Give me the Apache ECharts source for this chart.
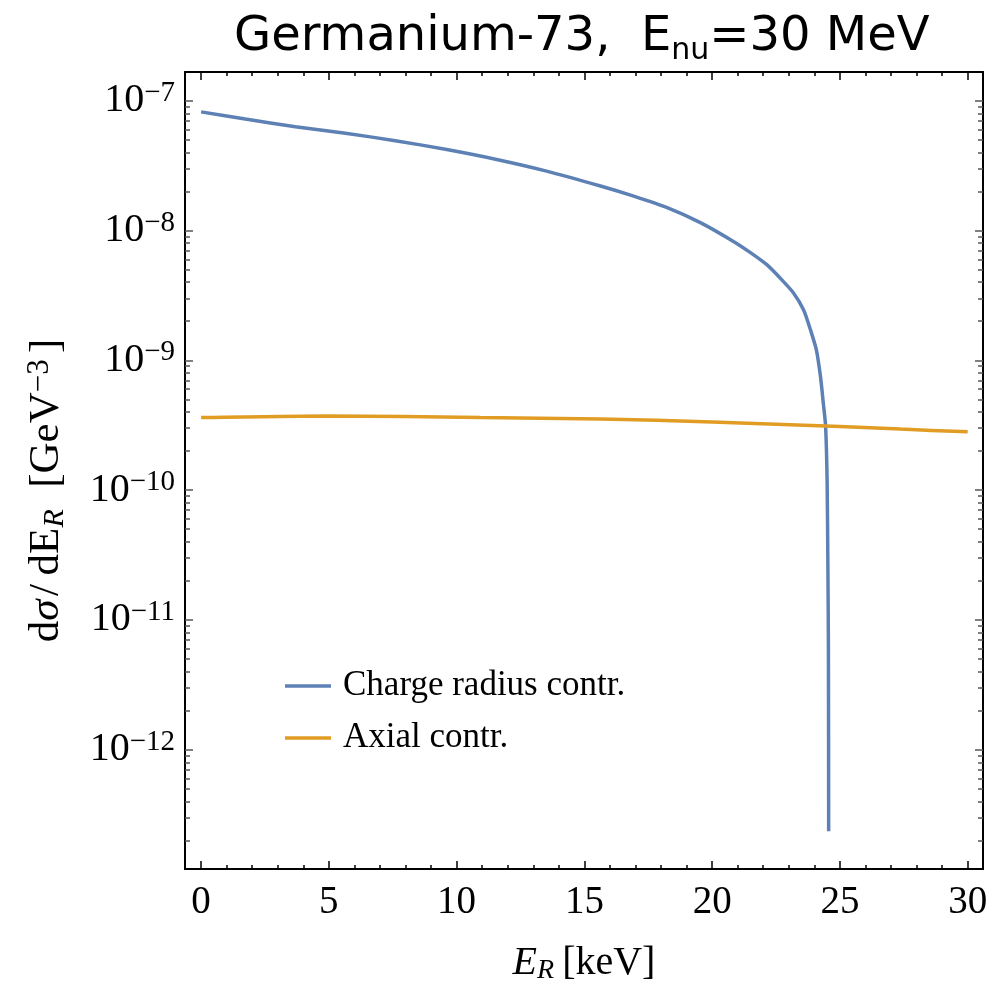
<!DOCTYPE html>
<html><head><meta charset="utf-8">
<script src="https://cdn.jsdelivr.net/npm/echarts@6/dist/echarts.min.js"></script>
<style>html,body{margin:0;padding:0;background:#fff}#c{width:1005px;height:983px}</style>
</head><body><div id="c"></div>
<script>
// ---- data ----
const erCharge = [0, 1.73, 3.69, 5.65, 7.60, 9.56, 11.52, 13.48, 15.63, 16.93, 18.24, 19.54, 20.85, 21.5, 22.15, 22.67, 23.19, 23.58, 23.85, 24.08, 24.24, 24.35, 24.44, 24.50, 24.53, 24.55, 24.56];
const sigmaCharge = [8.2e-8, 7.23e-8, 6.3e-8, 5.61e-8, 4.92e-8, 4.22e-8, 3.54e-8, 2.88e-8, 2.2e-8, 1.84e-8, 1.50e-8, 1.15e-8, 8.2e-9, 6.75e-9, 5.43e-9, 4.28e-9, 3.29e-9, 2.44e-9, 1.71e-9, 1.2e-9, 7.5e-10, 4.68e-10, 3.1e-10, 1.14e-10, 2.5e-11, 6e-12, 2.35e-13];
const erAxial = [0, 4.93, 10.93, 15.63, 20, 25.0, 27.37, 30];
const sigmaAxial = [3.62e-10, 3.73e-10, 3.62e-10, 3.53e-10, 3.35e-10, 3.09e-10, 2.95e-10, 2.81e-10];
const seriesNames = ['Charge radius contr.', 'Axial contr.'];
const xMajorTicks = [0, 5, 10, 15, 20, 25, 30];
const xMinorTicks = [1,2,3,4,6,7,8,9,11,12,13,14,16,17,18,19,21,22,23,24,26,27,28,29];
const yMajorTicks = [1e-12, 1e-11, 1e-10, 1e-9, 1e-8, 1e-7];
const yMinorMult = [2,3,4,5,6,7,8,9];

const xMin = -0.63, xMax = 30.6;
const yMin = Math.pow(10, -12.919), yMax = Math.pow(10, -6.779);

const yMinorTicks = [];
[1e-13].concat(yMajorTicks).forEach(d => yMinorMult.forEach(m => {
  const v = m * d; if (v > yMin && v < yMax) yMinorTicks.push(v);
}));

const SERIF = 'Liberation Serif';
const blue = '#5e81b5', orange = '#e19c24';

function xAxisCfg(pos, ticks, len, withLabel) {
  return {
    type: 'value', min: xMin, max: xMax, position: pos,
    axisLine: { show: withLabel !== null, onZero: false, lineStyle: { color: '#000', width: 2 } },
    axisTick: { customValues: ticks, inside: true, length: len, lineStyle: { color: '#000', width: 1.5 } },
    axisLabel: withLabel ? { customValues: xMajorTicks, fontFamily: SERIF, fontSize: 39, color: '#000', margin: 14 } : { show: false },
    splitLine: { show: false }
  };
}
function yAxisCfg(pos, ticks, len, withLabel) {
  return {
    type: 'log', logBase: 10, min: yMin, max: yMax, position: pos,
    axisLine: { show: withLabel !== null, onZero: false, lineStyle: { color: '#000', width: 2 } },
    axisTick: { customValues: ticks, inside: true, length: len, lineStyle: { color: '#555', width: 1.5 } },
    axisLabel: withLabel ? {
      customValues: yMajorTicks, margin: 10,
      formatter: v => '{b|10}{e|\u2212' + Math.abs(Math.round(Math.log10(v))) + '}',
      rich: {
        b: { fontFamily: SERIF, fontSize: 40, color: '#000', lineHeight: 44 },
        e: { fontFamily: SERIF, fontSize: 29, color: '#000', lineHeight: 22, verticalAlign: 'top' }
      }
    } : { show: false },
    splitLine: { show: false }
  };
}

const xAxes = [
  xAxisCfg('bottom', xMajorTicks, 8, true),
  xAxisCfg('bottom', xMinorTicks, 4, false),
  xAxisCfg('top', xMajorTicks, 8, false),
  xAxisCfg('top', xMinorTicks, 4, null)
];
xAxes[0].name = '{i|E}{is|R}{n|\u2009[keV]}';
xAxes[0].nameLocation = 'middle';
xAxes[0].nameGap = 72;
xAxes[0].nameTextStyle = { rich: {
  i: { fontFamily: SERIF, fontStyle: 'italic', fontSize: 40, color: '#000', lineHeight: 44 },
  is: { fontFamily: SERIF, fontStyle: 'italic', fontSize: 28, color: '#000', lineHeight: 20, verticalAlign: 'bottom' },
  n: { fontFamily: SERIF, fontSize: 40, color: '#000', lineHeight: 44 }
}};

const yAxes = [
  yAxisCfg('left', yMajorTicks, 8, true),
  yAxisCfg('left', yMinorTicks, 5, null),
  yAxisCfg('right', yMajorTicks, 8, false),
  yAxisCfg('right', yMinorTicks, 5, null)
];
yAxes[0].name = '{n|d}{i|\u03c3\u200a}{n|/\u2009dE}{is|R}{n|\u2002[GeV}{sup|\u22123\u2009}{n|]}';
yAxes[0].nameLocation = 'middle';
yAxes[0].nameGap = 115;
yAxes[0].nameRotate = 90;
yAxes[0].nameTextStyle = { padding: [0, 40, 0, 0], rich: {
  n: { fontFamily: SERIF, fontSize: 43, color: '#000', lineHeight: 46 },
  i: { fontFamily: SERIF, fontStyle: 'italic', fontSize: 43, color: '#000', lineHeight: 46 },
  is: { fontFamily: SERIF, fontStyle: 'italic', fontSize: 30, color: '#000', lineHeight: 20, verticalAlign: 'bottom' },
  sup: { fontFamily: SERIF, fontSize: 31, color: '#000', lineHeight: 24, verticalAlign: 'top' }
}};

const chart = echarts.init(document.getElementById('c'), null, { renderer: 'canvas' });
chart.setOption({
  animation: false,
  backgroundColor: '#fff',
  title: {
    left: 229, top: 5,
    text: '{t|Germanium-73,  E}{s|nu}{t|=30 MeV}',
    textStyle: { fontWeight: 'normal', rich: {
      t: { fontFamily: 'DejaVu Sans', fontWeight: 'normal', fontSize: 48, color: '#000', lineHeight: 56 },
      s: { fontFamily: 'DejaVu Sans', fontWeight: 'normal', fontSize: 30, color: '#000', lineHeight: 10, verticalAlign: 'bottom' }
    }}
  },
  grid: { left: 185, right: 22, top: 72, bottom: 114, containLabel: false, outerBoundsMode: 'none' },
  xAxis: xAxes,
  yAxis: yAxes,
  legend: {
    orient: 'vertical', left: 285, top: 666, padding: 0,
    icon: 'rect', itemWidth: 46, itemHeight: 3.5, itemGap: 12,
    data: seriesNames,
    textStyle: { fontFamily: SERIF, fontSize: 35, color: '#000', lineHeight: 40, padding: [0, 0, 0, 7] }
  },
  series: [
    { name: seriesNames[0], type: 'line', xAxisIndex: 0, yAxisIndex: 0, showSymbol: false,
      smooth: 0.25, color: blue, lineStyle: { color: blue, width: 3.5 },
      data: erCharge.map((x, i) => [x, sigmaCharge[i]]) },
    { name: seriesNames[1], type: 'line', xAxisIndex: 0, yAxisIndex: 0, showSymbol: false,
      smooth: 0.25, color: orange, lineStyle: { color: orange, width: 3.5 },
      data: erAxial.map((x, i) => [x, sigmaAxial[i]]) }
  ]
});
</script></body></html>
